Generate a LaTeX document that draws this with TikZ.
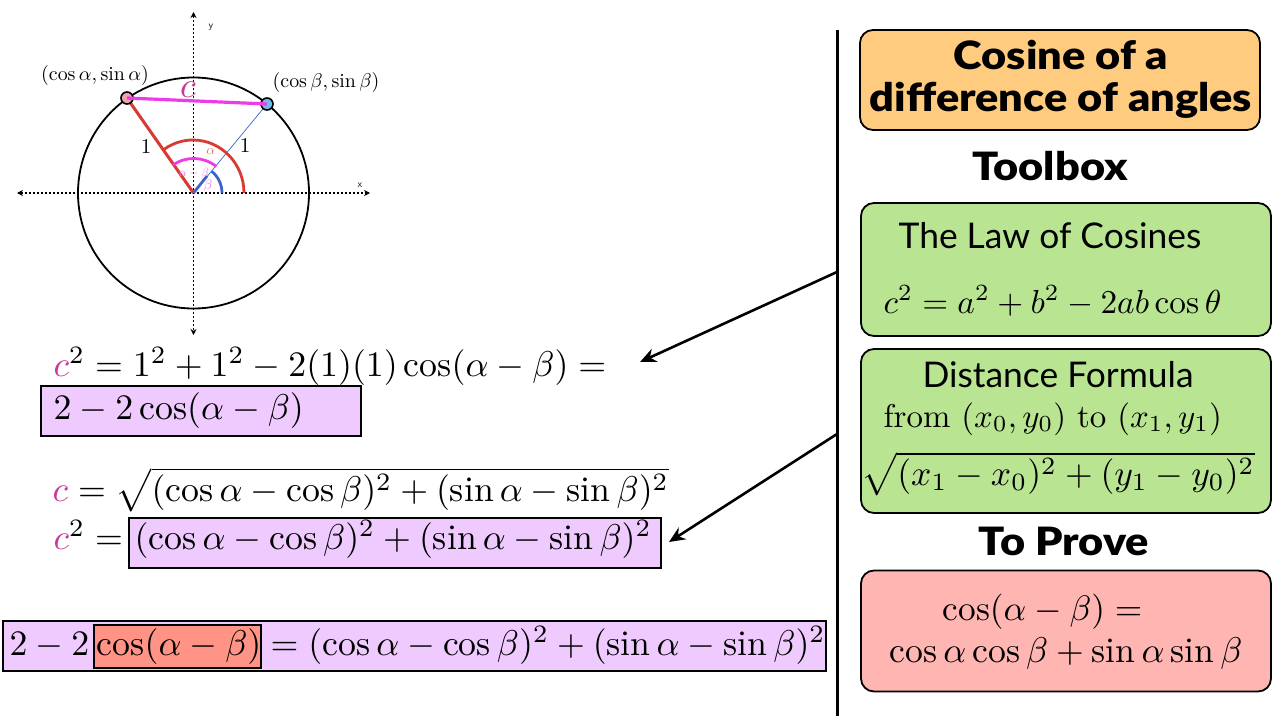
\documentclass[tikz,border=0pt]{standalone}
\usepackage{amsmath}
\usepackage{fontspec}
\setmainfont{Latin Modern Roman}
\newfontfamily\titlefont{Lato Black}
\newfontfamily\subfont{Lato}
\usetikzlibrary{arrows.meta}
\definecolor{lilac}{HTML}{EFCAFE}
\definecolor{salmon}{HTML}{FF9486}
\definecolor{cpink}{HTML}{C8379B}
\definecolor{orangebox}{HTML}{FFCB7E}
\definecolor{greenbox}{HTML}{B9E592}
\definecolor{redbox}{HTML}{FFB6B3}
\definecolor{arcred}{HTML}{D93A32}
\definecolor{arcmag}{HTML}{F03AE8}
\definecolor{arcblue}{HTML}{3F62CC}
\definecolor{ptblue}{HTML}{6FBDE8}
\definecolor{ptred}{HTML}{F0A6A6}
\tikzset{
  eqn/.style={inner sep=0pt,anchor=base west},
  big/.style={scale=3.58,transform shape},
  sized/.style={scale=#1,transform shape,inner sep=0pt},
  hl/.style={draw=black,line width=2pt,fill=lilac},
  rbox/.style={draw=black,line width=1.8pt,rounded corners=13pt},
  arrowline/.style={draw=black,line width=2.6pt,-{Stealth[length=16pt,width=14pt]}},
  axis/.style={line width=1.1pt,{Stealth[length=6pt,width=6pt]}-{Stealth[length=6pt,width=6pt]},dash pattern=on 2pt off 2pt},
  heading/.style={font=\titlefont\fontsize{39}{42}\selectfont,inner sep=0pt,xscale=1.11,transform shape},
  boxtitle/.style={font=\subfont\fontsize{35.4}{38}\selectfont,inner sep=0pt},
}
\begin{document}
\begin{tikzpicture}[x=1pt,y=-1pt]
\useasboundingbox (0,0) rectangle (1280,720);
\fill[white] (0,0) rectangle (1280,720);
% diagram
\coordinate (O) at (193.5,193);
\coordinate (A) at (127,98);
\coordinate (B) at (267,104);
\draw[line width=1.8pt] (O) circle (115.5);
\coordinate (xl) at (17,193); \coordinate (xr) at (370,193);
\coordinate (yt) at (193.5,12); \coordinate (yb) at (193.5,335);
\draw[axis] (xl) -- (xr);
\draw[axis] (yt) -- (yb);
\node[inner sep=0pt,font=\sffamily\fontsize{10}{10}\selectfont] (ylab) at (211,27) {y};
\node[inner sep=0pt,font=\sffamily\fontsize{10}{10}\selectfont] (xlab) at (360,185) {x};
\draw[arcred,line width=3pt] (O) -- (A);
\draw[arcblue,line width=.7pt] (O) -- (B);
\draw[arcblue,line width=2.8pt] (O) -- (207,176);
\draw[black,line width=1.6pt,fill=ptred] (A) circle (6);
\draw[black,line width=1.6pt,fill=ptblue] (B) circle (6);
\draw[arcmag,line width=3.2pt] (A) -- (B);
\draw[arcred,line width=2.8pt] (244,193) arc[start angle=0,end angle=-124,x radius=51,y radius=53];
\draw[arcmag,line width=2.8pt] (173,165) arc[start angle=-125,end angle=-51,radius=36];
\draw[arcblue,line width=2.8pt] (222,193) arc[start angle=0,end angle=-51,radius=28];
\node[sized=1.4,text=arcred!70] (la) at (211,151) {$\alpha$};
\node[sized=1.2,text=arcmag!70] (lab2) at (194,173) {$\alpha-\beta$};
\node[sized=1.4,text=arcmag!70] (lb) at (208,186) {$\beta$};
\node[sized=3.6,text=cpink] (lc) at (188,90) {$c$};
\node[sized=2.1] (la1) at (146,147) {1};
\node[sized=2.1] (lb1) at (245,146) {1};
\node[sized=1.99] (pa) at (95,76) {$(\cos\alpha,\sin\alpha)$};
\node[sized=1.99] (pb) at (326,83) {$(\cos\beta,\sin\beta)$};
% equations
\draw[hl] (40.5,386) rectangle (361,436);
\draw[hl] (129,518) rectangle (660.5,568);
\draw[hl] (3,621) rectangle (825.5,670.5);
\draw[draw=black,line width=2pt,fill=salmon] (93.5,624.5) rectangle (261,667.5);
\node[eqn,big] (e1) at (53,376) {$\textcolor{cpink}{c}^2=1^2+1^2-2(1)(1)\cos(\alpha-\beta)=$};
\node[eqn,big] (e2) at (53,419) {$2-2\cos(\alpha-\beta)$};
\node[eqn,big] (e3) at (52,501) {$\textcolor{cpink}{c}=\sqrt{(\cos\alpha-\cos\beta)^2+(\sin\alpha-\sin\beta)^2}$};
\node[eqn,big] (e4) at (53,549) {$\textcolor{cpink}{c}^2=$};
\node[eqn,big] (e5) at (134,549) {$(\cos\alpha-\cos\beta)^2+(\sin\alpha-\sin\beta)^2$};
\node[eqn,big] (e6) at (9,655) {$2-2$};
\node[eqn,big] (e7) at (96,655) {$\cos(\alpha-\beta)$};
\node[eqn,big] (e8) at (270,655) {$=(\cos\alpha-\cos\beta)^2+(\sin\alpha-\sin\beta)^2$};
% divider
\coordinate (dt) at (837,30); \coordinate (db) at (837,716);
\draw[line width=3pt] (dt) -- (db);
% right boxes
\node[rbox,fill=orangebox,minimum width=400pt,minimum height=100pt,inner sep=0pt] (b1) at (1060,80) {};
\node[heading] (t1) at (1061,55) {Cosine of a};
\node[heading] (t2) at (1061,100) {difference of angles};
\node[heading] (t3) at (1050,166) {Toolbox};
\node[rbox,fill=greenbox,minimum width=410pt,minimum height=133pt,inner sep=0pt] (b2) at (1066,269.5) {};
\node[boxtitle] (t4) at (1050,236) {The Law of Cosines};
\node[eqn,sized=3.33] (e9) at (883,313) {$c^2=a^2+b^2-2ab\cos\theta$};
\node[rbox,fill=greenbox,minimum width=410pt,minimum height=164pt,inner sep=0pt] (b3) at (1066,431) {};
\node[boxtitle] (t5) at (1058,375) {Distance Formula};
\node[eqn,sized=3.29] (e10) at (883,427) {from $(x_0,y_0)$ to $(x_1,y_1)$};
\node[eqn,sized=3.56] (e11) at (861,485) {$\sqrt{(x_1-x_0)^2+(y_1-y_0)^2}$};
\node[heading] (t6) at (1064,541) {To Prove};
\node[rbox,fill=redbox,minimum width=410pt,minimum height=121pt,inner sep=0pt] (b4) at (1066,631) {};
\node[eqn,sized=3.53] (e12) at (942,620) {$\cos(\alpha-\beta)=$};
\node[eqn,sized=3.57] (e13) at (889,662) {$\cos\alpha\cos\beta+\sin\alpha\sin\beta$};
% arrows
\coordinate (a1s) at (837,272); \coordinate (a1e) at (640,362);
\coordinate (a2s) at (837,434); \coordinate (a2e) at (669,542);
\draw[arrowline] (a1s) -- (a1e);
\draw[arrowline] (a2s) -- (a2e);
\end{tikzpicture}
\end{document}
